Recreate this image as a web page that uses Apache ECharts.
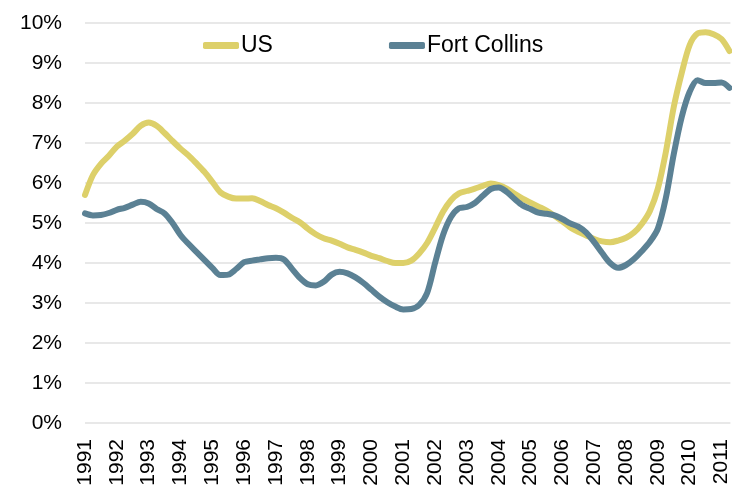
<!DOCTYPE html>
<html>
<head>
<meta charset="utf-8">
<script src="https://cdn.jsdelivr.net/npm/echarts@6/dist/echarts.min.js"></script>
<style>
  html, body { margin: 0; padding: 0; background: #fff; }
  #chart { width: 732px; height: 490px; }
</style>
</head>
<body>
<div id="chart"></div>
<script>
// Quarterly readings starting 1991.00, step 0.25 year
const startYear = 1991;
const stepYears = 0.25;
const seriesNames = ['US', 'Fort Collins'];
const usRates = [
  5.70, 6.20, 6.48, 6.68, 6.91, 7.06, 7.23, 7.43, 7.51, 7.43,
  7.25, 7.05, 6.86, 6.69, 6.49, 6.28, 6.03, 5.77, 5.66, 5.61,
  5.61, 5.62, 5.55, 5.45, 5.37, 5.26, 5.13, 5.02, 4.86, 4.72,
  4.62, 4.56, 4.48, 4.39, 4.33, 4.26, 4.18, 4.12, 4.05, 4.00,
  4.00, 4.06, 4.24, 4.50, 4.88, 5.28, 5.57, 5.74, 5.80, 5.86,
  5.93, 5.99, 5.95, 5.86, 5.73, 5.61, 5.51, 5.41, 5.31, 5.18,
  5.04, 4.89, 4.78, 4.69, 4.60, 4.54, 4.52, 4.56, 4.63, 4.76,
  4.98, 5.30, 5.86, 6.77, 7.90, 8.75, 9.45, 9.74, 9.77, 9.72,
  9.60, 9.30
];
const fortCollinsRates = [
  5.24, 5.19, 5.20, 5.25, 5.33, 5.38, 5.46, 5.53, 5.49, 5.35,
  5.24, 5.00, 4.70, 4.48, 4.28, 4.08, 3.88, 3.70, 3.71, 3.85,
  4.02, 4.06, 4.09, 4.12, 4.13, 4.09, 3.86, 3.63, 3.47, 3.44,
  3.53, 3.71, 3.78, 3.74, 3.64, 3.50, 3.33, 3.16, 3.02, 2.91,
  2.84, 2.85, 2.95, 3.25, 4.00, 4.70, 5.15, 5.37, 5.40, 5.50,
  5.68, 5.85, 5.89, 5.78, 5.60, 5.44, 5.35, 5.26, 5.23, 5.19,
  5.10, 4.99, 4.91, 4.76, 4.52, 4.25, 4.00, 3.88, 3.95, 4.10,
  4.30, 4.53, 4.86, 5.62, 6.72, 7.65, 8.28, 8.57, 8.50, 8.50,
  8.51, 8.38
];
const yTicks = [0, 1, 2, 3, 4, 5, 6, 7, 8, 9, 10];
const xFirstYear = 1991;
const xLastYear = 2011;

const toPairs = arr => arr.map((v, i) => [startYear + i * stepYears, v]);

const font = '"Liberation Sans", Arial, sans-serif';
const chart = echarts.init(document.getElementById('chart'), null, { renderer: 'canvas' });
chart.setOption({
  animation: false,
  backgroundColor: '#ffffff',
  textStyle: { fontFamily: font },
  grid: { left: 85, right: 0, top: 23, bottom: 67, containLabel: false },
  legend: {
    data: seriesNames,
    left: 203,
    top: 34,
    padding: 0,
    icon: 'roundRect',
    itemWidth: 36,
    itemHeight: 7,
    itemGap: 116,
    textStyle: { fontSize: 23, color: '#000', fontFamily: font, padding: [0, 0, 0, -3] }
  },
  xAxis: {
    type: 'value',
    min: xFirstYear,
    max: 2011.28,
    interval: 1,
    axisLine: { show: false },
    axisTick: { show: false },
    splitLine: { show: false },
    axisLabel: {
      rotate: 90,
      margin: 16,
      fontSize: 21,
      color: '#000',
      fontFamily: font,
      showMaxLabel: false,
      formatter: v => (Math.abs(v - Math.round(v)) < 1e-6 && v <= xLastYear) ? String(Math.round(v)) : ''
    }
  },
  yAxis: {
    type: 'value',
    min: yTicks[0],
    max: yTicks[yTicks.length - 1],
    interval: 1,
    axisLine: { show: false },
    axisTick: { show: false },
    splitLine: { show: true, lineStyle: { color: '#e1e1e1', width: 1.5 } },
    axisLabel: {
      margin: 23,
      fontSize: 21,
      color: '#000',
      fontFamily: font,
      formatter: '{value}%'
    }
  },
  series: [
    {
      name: seriesNames[0],
      type: 'line',
      data: toPairs(usRates),
      smooth: 0.3,
      showSymbol: false,
      symbol: 'none',
      color: '#ddd06a',
      lineStyle: { width: 6, color: '#ddd06a', cap: 'round', join: 'round' }
    },
    {
      name: seriesNames[1],
      type: 'line',
      data: toPairs(fortCollinsRates),
      smooth: 0.3,
      showSymbol: false,
      symbol: 'none',
      color: '#5b8194',
      lineStyle: { width: 6, color: '#5b8194', cap: 'round', join: 'round' }
    }
  ]
});
</script>
</body>
</html>
